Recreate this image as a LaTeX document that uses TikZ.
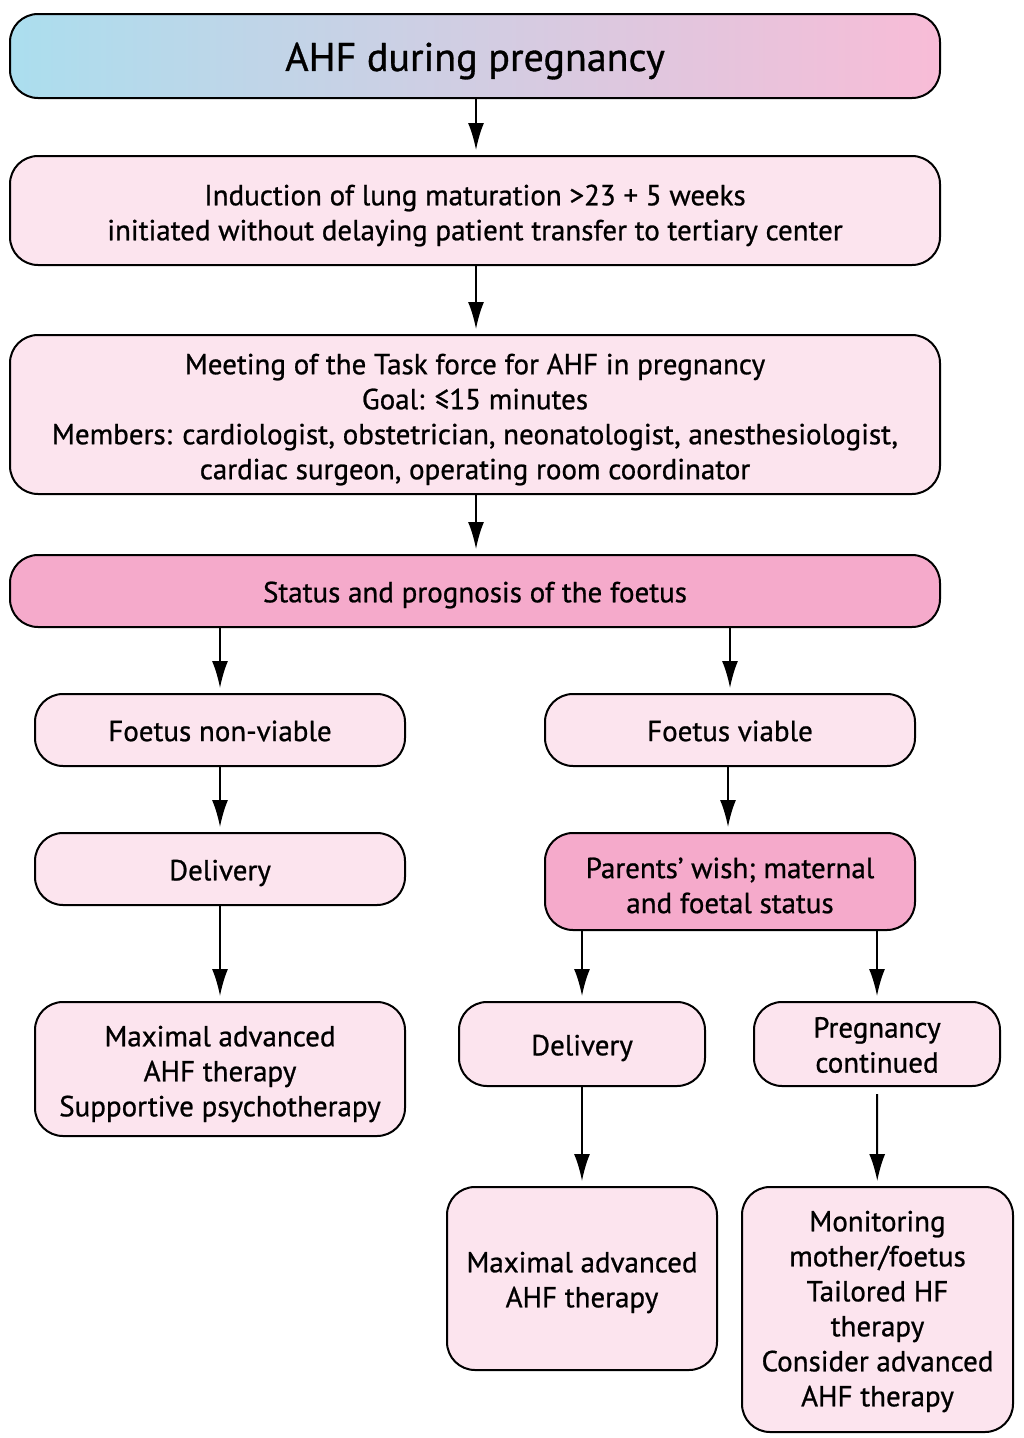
\documentclass[tikz,border=0pt]{standalone}
\usepackage{fontspec}
\setmainfont{PT Sans}[FakeBold=0.8]
\usetikzlibrary{arrows.meta,calc}
\definecolor{lightpk}{HTML}{FCE4EE}
\definecolor{darkpk}{HTML}{F5AACB}
\definecolor{gcyan}{HTML}{ABDEEE}
\definecolor{gpink}{HTML}{F8BCD7}
\tikzset{
  box/.style={draw=black, line width=2pt, rounded corners=28pt, fill=lightpk, inner sep=0pt},
  darkbox/.style={box, fill=darkpk},
  gradbox/.style={box, left color=gcyan, right color=gpink},
  txt/.style={align=center, inner sep=0pt, font=\fontsize{29}{35}\selectfont},
  arr/.style={-{Latex[length=27pt,width=16pt]}, line width=2pt, shorten >=5pt},
}
\newcommand{\mybox}[8]{%
  \node[#1, minimum width=#4-#2, minimum height=#5-#3] (#6) at ({(#2+#4)/2},{(#3+#5)/2}) {};
  \node[txt] (#6-t) at ([yshift=-#7]#6.center) {#8};}
\begin{document}
\begin{tikzpicture}[x=1pt,y=-1pt]
\useasboundingbox (0,0) rectangle (1024,1438);
\mybox{gradbox}{10}{14}{940}{98}{title}{5pt}{\fontsize{40}{44}\selectfont AHF during pregnancy}
\mybox{box}{10}{156}{940}{265}{ind}{5pt}{Induction of lung maturation >23 + 5 weeks\\initiated without delaying patient transfer to tertiary center}
\mybox{box}{10}{335}{940}{494}{meet}{5pt}{Meeting of the Task force for AHF in pregnancy\\Goal: ≤15 minutes\\Members: cardiologist, obstetrician, neonatologist, anesthesiologist,\\cardiac surgeon, operating room coordinator}
\mybox{darkbox}{10}{555}{940}{627}{status}{4pt}{Status and prognosis of the foetus}
\mybox{box}{35}{694}{405}{766}{nv}{1pt}{Foetus non-viable}
\mybox{box}{545}{694}{915}{766}{via}{1pt}{Foetus viable}
\mybox{box}{35}{833}{405}{905}{delL}{4pt}{Delivery}
\mybox{darkbox}{545}{833}{915}{930}{par}{4pt}{Parents' wish; maternal\\and foetal status}
\mybox{box}{35}{1002}{405}{1136}{maxL}{5pt}{Maximal advanced\\AHF therapy\\Supportive psychotherapy}
\mybox{box}{459}{1002}{705}{1086}{delR}{4pt}{Delivery}
\mybox{box}{754}{1002}{1000}{1086}{preg}{1pt}{Pregnancy\\continued}
\mybox{box}{447}{1187}{717}{1370}{maxR}{4pt}{Maximal advanced\\AHF therapy}
\mybox{box}{742}{1187}{1013}{1432}{mon}{2pt}{Monitoring\\mother/foetus\\Tailored HF\\therapy\\Consider advanced\\AHF therapy}
% arrows
\draw[arr] (title.south -| 476,0) -- (ind.north -| 476,0);
\draw[arr] (ind.south -| 476,0) -- (meet.north -| 476,0);
\draw[arr] (meet.south -| 476,0) -- (status.north -| 476,0);
\draw[arr] (status.south -| nv.north) -- (nv.north);
\draw[arr] (status.south -| 730,0) -- (via.north -| 730,0);
\draw[arr] (nv) -- (delL);
\draw[arr] (via.south -| 728,0) -- (par.north -| 728,0);
\draw[arr] (delL) -- (maxL);
\draw[arr] (par.south -| delR.north) -- (delR.north);
\draw[arr] (par.south -| preg.north) -- (preg.north);
\draw[arr] (delR) -- (maxR);
\draw[arr, shorten <=7pt] (preg) -- (mon);
\end{tikzpicture}
\end{document}
